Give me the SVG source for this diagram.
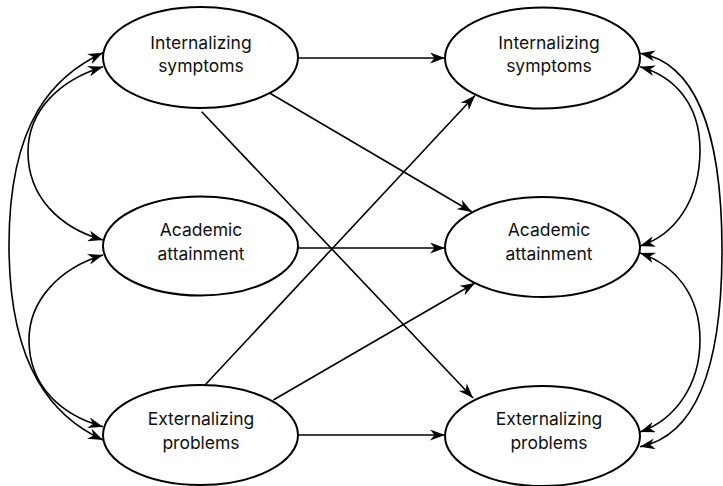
<svg xmlns="http://www.w3.org/2000/svg" width="723" height="486" viewBox="0 0 723 486">
<defs>
<marker id="arr" viewBox="0 0 15 11" refX="15" refY="5.5" markerWidth="15" markerHeight="11" markerUnits="userSpaceOnUse" orient="auto-start-reverse">
<path d="M0,0 L15,5.5 L0,11 L4.5,5.5 Z" fill="#000"/>
</marker>
</defs>
<style>
.node ellipse{fill:#fff;stroke:#000;stroke-width:2}
.node text{font-family:Inter,"Noto Sans","DejaVu Sans",sans-serif;font-size:17.5px;fill:#111;text-anchor:middle}
.edges path{fill:none;stroke:#000;stroke-width:1.6}
.one{marker-end:url(#arr)}
.two{marker-start:url(#arr);marker-end:url(#arr)}
</style>
<rect width="723" height="486" fill="#fff"/>
<g class="edges" id="connectors">
<path class="one" d="M298,58 L445,58"/>
<path class="one" d="M298,248 L445,248"/>
<path class="one" d="M298,435 L445,435"/>
<path class="one" d="M270,93.3 L472,212"/>
<path class="one" d="M201.7,111.7 L473,398"/>
<path class="one" d="M205,385 L475,95.5"/>
<path class="one" d="M273.3,400 L475,283"/>
<path class="two" d="M103,52.7 C55,75 9,120 9,245 C9,370 55,418 103,440"/>
<path class="two" d="M103,66.7 C60,80 28,110 28,152 C28,197 60,228 103,240"/>
<path class="two" d="M103,255 C60,268 29,300 29,340 C29,385 60,415 103,426.7"/>
<path class="two" d="M640,53.3 C690,62 722,120 722,250 C722,380 690,437 640,446.7"/>
<path class="two" d="M640,66.7 C670,75 700,100 700,150 C700,200 675,235 640,246"/>
<path class="two" d="M640,253 C675,265 700,295 700,340 C700,385 675,420 640,432"/>
</g>
<g class="node" id="int1"><ellipse cx="200.5" cy="57.5" rx="97.5" ry="50.5"/><text x="201" y="48.5">Internalizing</text><text x="201" y="72">symptoms</text></g>
<g class="node" id="aca1"><ellipse cx="200.5" cy="246" rx="97.5" ry="49.5"/><text x="201" y="236">Academic</text><text x="201" y="260">attainment</text></g>
<g class="node" id="ext1"><ellipse cx="200.5" cy="435" rx="97.5" ry="50"/><text x="201" y="425">Externalizing</text><text x="201" y="448.5">problems</text></g>
<g class="node" id="int2"><ellipse cx="542.5" cy="58" rx="97.5" ry="50.5"/><text x="549" y="48.5">Internalizing</text><text x="549" y="72">symptoms</text></g>
<g class="node" id="aca2"><ellipse cx="542.5" cy="247" rx="97.5" ry="50"/><text x="549" y="236">Academic</text><text x="549" y="260">attainment</text></g>
<g class="node" id="ext2"><ellipse cx="542.5" cy="436" rx="97.5" ry="50"/><text x="549" y="425">Externalizing</text><text x="549" y="448.5">problems</text></g>
</svg>
